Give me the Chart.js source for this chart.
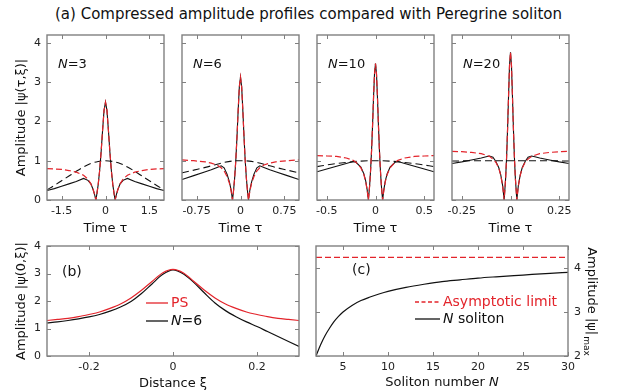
<!DOCTYPE html>
<html>
<head>
<meta charset="utf-8">
<script src="https://cdn.jsdelivr.net/npm/chart.js@4"></script>
<style>
  body { margin: 0; background: #fff; width: 617px; height: 392px; position: relative; overflow: hidden; font-family: "DejaVu Sans", sans-serif; }
  canvas { position: absolute; }
  #title { position: absolute; left: 0; width: 617px; top: 5px; text-align: center; font-size: 15px; color: #111; }
</style>
</head>
<body>
<div id="title">(a) Compressed amplitude profiles compared with Peregrine soliton</div>
<canvas id="p3"></canvas>
<canvas id="p6"></canvas>
<canvas id="p10"></canvas>
<canvas id="p20"></canvas>
<canvas id="pb"></canvas>
<canvas id="pc"></canvas>
<script>
// ---- data ----
const ampTicks = [0, 1, 2, 3, 4];

// N = 3
const tau3 = [-2, -1.75, -1.5, -1.25, -1, -0.75, -0.6, -0.5, -0.42, -0.37, -0.33, -0.3, -0.25, -0.2, -0.15, -0.1, -0.05, 0,
  0.05, 0.1, 0.15, 0.2, 0.25, 0.3, 0.33, 0.37, 0.42, 0.5, 0.6, 0.75, 1, 1.25, 1.5, 1.75, 2];
const ps3 = [0.80, 0.79, 0.78, 0.75, 0.71, 0.63, 0.53, 0.41, 0.26, 0.13, 0, 0.13, 0.39, 0.75, 1.22, 1.77, 2.28, 2.49,
  2.28, 1.77, 1.22, 0.75, 0.39, 0.13, 0, 0.13, 0.26, 0.41, 0.53, 0.63, 0.71, 0.75, 0.78, 0.79, 0.80];
const sol3 = [0.24, 0.29, 0.35, 0.41, 0.47, 0.55, 0.50, 0.41, 0.26, 0.13, 0, 0.13, 0.39, 0.75, 1.22, 1.77, 2.28, 2.49,
  2.28, 1.77, 1.22, 0.75, 0.39, 0.13, 0, 0.13, 0.26, 0.41, 0.50, 0.55, 0.47, 0.41, 0.35, 0.29, 0.24];
const tauIn3 = [-2, -1.75, -1.5, -1.25, -1, -0.75, -0.5, -0.25, 0, 0.25, 0.5, 0.75, 1, 1.25, 1.5, 1.75, 2];
const in3 = [0.26, 0.37, 0.49, 0.61, 0.73, 0.84, 0.93, 0.98, 1.0, 0.98, 0.93, 0.84, 0.73, 0.61, 0.49, 0.37, 0.26];
const ticks3 = [-1.5, 0, 1.5];

// N = 6
const tau6 = [-1, -0.8, -0.6, -0.5, -0.4, -0.33, -0.28, -0.23, -0.19, -0.16, -0.137, -0.12, -0.1, -0.08, -0.06, -0.04, -0.02, 0,
  0.02, 0.04, 0.06, 0.08, 0.1, 0.12, 0.137, 0.16, 0.19, 0.23, 0.28, 0.33, 0.4, 0.5, 0.6, 0.8, 1];
const ps6 = [1.02, 1.0, 0.97, 0.94, 0.89, 0.82, 0.74, 0.60, 0.43, 0.23, 0, 0.22, 0.56, 1.02, 1.61, 2.28, 2.88, 3.13,
  2.88, 2.28, 1.61, 1.02, 0.56, 0.22, 0, 0.23, 0.43, 0.60, 0.74, 0.82, 0.89, 0.94, 0.97, 1.0, 1.02];
const sol6 = [0.52, 0.62, 0.72, 0.77, 0.83, 0.87, 0.82, 0.66, 0.46, 0.25, 0, 0.22, 0.56, 1.02, 1.61, 2.28, 2.88, 3.13,
  2.88, 2.28, 1.61, 1.02, 0.56, 0.22, 0, 0.25, 0.46, 0.66, 0.82, 0.87, 0.83, 0.77, 0.72, 0.62, 0.52];
const tauIn6 = [-1, -0.8, -0.6, -0.45, -0.3, -0.15, 0, 0.15, 0.3, 0.45, 0.6, 0.8, 1];
const in6 = [0.69, 0.76, 0.83, 0.89, 0.95, 0.99, 1.0, 0.99, 0.95, 0.89, 0.83, 0.76, 0.69];
const ticks6 = [-0.75, 0, 0.75];

// N = 10
const tau10 = [-0.6, -0.5, -0.4, -0.3, -0.23, -0.2, -0.15, -0.12, -0.1, -0.085, -0.073, -0.06, -0.05, -0.04, -0.03, -0.02, -0.01, 0,
  0.01, 0.02, 0.03, 0.04, 0.05, 0.06, 0.073, 0.085, 0.1, 0.12, 0.15, 0.2, 0.23, 0.3, 0.4, 0.5, 0.6];
const ps10 = [1.13, 1.12, 1.11, 1.07, 1.01, 0.96, 0.82, 0.65, 0.46, 0.24, 0, 0.37, 0.77, 1.28, 1.91, 2.62, 3.22, 3.47,
  3.22, 2.62, 1.91, 1.28, 0.77, 0.37, 0, 0.24, 0.46, 0.65, 0.82, 0.96, 1.01, 1.07, 1.11, 1.12, 1.13];
const sol10 = [0.72, 0.79, 0.86, 0.93, 0.98, 0.96, 0.84, 0.67, 0.48, 0.25, 0, 0.37, 0.77, 1.28, 1.91, 2.62, 3.22, 3.47,
  3.22, 2.62, 1.91, 1.28, 0.77, 0.37, 0, 0.25, 0.48, 0.67, 0.84, 0.96, 0.98, 0.93, 0.86, 0.79, 0.72];
const tauIn10 = [-0.6, -0.45, -0.3, -0.15, 0, 0.15, 0.3, 0.45, 0.6];
const in10 = [0.85, 0.91, 0.955, 0.99, 1.0, 0.99, 0.955, 0.91, 0.85];
const ticks10 = [-0.5, 0, 0.5];

// N = 20
const tau20 = [-0.3, -0.25, -0.2, -0.15, -0.125, -0.108, -0.09, -0.075, -0.06, -0.05, -0.04, -0.0325, -0.025, -0.02, -0.015, -0.01, -0.005, 0,
  0.005, 0.01, 0.015, 0.02, 0.025, 0.0325, 0.04, 0.05, 0.06, 0.075, 0.09, 0.108, 0.125, 0.15, 0.2, 0.25, 0.3];
const ps20 = [1.24, 1.23, 1.21, 1.18, 1.14, 1.11, 1.04, 0.96, 0.81, 0.63, 0.35, 0, 0.55, 1.09, 1.81, 2.65, 3.43, 3.76,
  3.43, 2.65, 1.81, 1.09, 0.55, 0, 0.35, 0.63, 0.81, 0.96, 1.04, 1.11, 1.14, 1.18, 1.21, 1.23, 1.24];
const sol20 = [0.93, 0.97, 1.02, 1.07, 1.10, 1.12, 1.09, 0.98, 0.82, 0.64, 0.36, 0, 0.55, 1.09, 1.81, 2.65, 3.43, 3.76,
  3.43, 2.65, 1.81, 1.09, 0.55, 0, 0.36, 0.64, 0.82, 0.98, 1.09, 1.12, 1.10, 1.07, 1.02, 0.97, 0.93];
const tauIn20 = [-0.3, -0.15, 0, 0.15, 0.3];
const in20 = [0.99, 1.0, 1.0, 1.0, 0.99];
const ticks20 = [-0.25, 0, 0.25];

// (b) peak amplitude along distance
const xi = [-0.3, -0.275, -0.25, -0.225, -0.2, -0.175, -0.15, -0.125, -0.1, -0.075, -0.05, -0.025, 0,
  0.025, 0.05, 0.075, 0.1, 0.125, 0.15, 0.175, 0.2, 0.225, 0.25, 0.275, 0.3];
const psXi = [1.29, 1.33, 1.37, 1.43, 1.51, 1.60, 1.73, 1.89, 2.11, 2.39, 2.71, 3.02, 3.15,
  3.02, 2.71, 2.39, 2.11, 1.89, 1.73, 1.60, 1.51, 1.43, 1.37, 1.33, 1.29];
const solXi = [1.20, 1.24, 1.29, 1.35, 1.42, 1.51, 1.63, 1.78, 1.98, 2.27, 2.62, 2.96, 3.13,
  2.98, 2.67, 2.29, 1.93, 1.65, 1.43, 1.24, 1.07, 0.89, 0.71, 0.53, 0.35];
const xiTicks = [-0.2, 0, 0.2];

// (c) maximum amplitude vs soliton number
const nSol = [2, 2.5, 3, 3.5, 4, 4.5, 5, 6, 7, 8, 9, 10, 12, 14, 16, 18, 20, 22, 25, 28, 30];
const peakSol = [2.0, 2.25, 2.46, 2.63, 2.78, 2.9, 3.0, 3.15, 3.26, 3.34, 3.41, 3.47, 3.56, 3.63, 3.69, 3.73, 3.77, 3.80, 3.84, 3.88, 3.90];
const nLimit = [2, 30];
const peakLimit = [4.24, 4.24];
const nTicks = [5, 10, 15, 20, 25, 30];
const peakTicks = [2, 3, 4];

// ---- styling ----
const RED = "#e3242b";
const BLACK = "#111";
const FRAME = "#808080";
const FONT = "'DejaVu Sans', sans-serif";
Chart.defaults.font.family = FONT;
Chart.defaults.color = "#222";

const pts = (xs, ys) => xs.map((x, i) => ({ x: x, y: ys[i] }));

function drawRuns(ctx, runs, x, y, size, align) {
  let w = 0;
  runs.forEach(r => { ctx.font = (r[1] ? "italic " : "") + size + "px " + FONT; w += ctx.measureText(r[0]).width; });
  let cx = align === "center" ? x - w / 2 : x;
  ctx.textBaseline = "middle";
  ctx.textAlign = "left";
  runs.forEach(r => {
    ctx.font = (r[1] ? "italic " : "") + size + "px " + FONT;
    ctx.fillStyle = r[2] || BLACK;
    ctx.fillText(r[0], cx, y);
    cx += ctx.measureText(r[0]).width;
  });
}

// frame, inward ticks, labels and legends
const decor = {
  id: "decor",
  afterDraw(chart, args, opts) {
    const { ctx, chartArea: a, scales } = chart;
    ctx.save();
    ctx.strokeStyle = FRAME;
    ctx.lineWidth = 1.4;
    ctx.strokeRect(a.left, a.top, a.right - a.left, a.bottom - a.top);
    ctx.lineWidth = 1;
    ctx.beginPath();
    scales.x.ticks.forEach(t => {
      const px = Math.round(scales.x.getPixelForValue(t.value)) + 0.5;
      ctx.moveTo(px, a.bottom); ctx.lineTo(px, a.bottom - 4);
      ctx.moveTo(px, a.top); ctx.lineTo(px, a.top + 4);
    });
    scales.y.ticks.forEach(t => {
      const py = Math.round(scales.y.getPixelForValue(t.value)) + 0.5;
      ctx.moveTo(a.left, py); ctx.lineTo(a.left + 4, py);
      ctx.moveTo(a.right, py); ctx.lineTo(a.right - 4, py);
    });
    ctx.stroke();

    (opts.texts || []).forEach(t => drawRuns(ctx, t.runs, a.left + t.dx, a.top + t.dy, t.size, t.align));

    (opts.legend || []).forEach(l => {
      ctx.strokeStyle = l.color;
      ctx.lineWidth = 1.3;
      ctx.setLineDash(l.dash || []);
      ctx.beginPath();
      ctx.moveTo(a.left + l.x1, a.top + l.dy);
      ctx.lineTo(a.left + l.x2, a.top + l.dy);
      ctx.stroke();
      ctx.setLineDash([]);
      drawRuns(ctx, l.runs, a.left + l.x2 + 3, a.top + l.dy, 14);
    });

    if (opts.bottomTitle) {
      drawRuns(ctx, opts.bottomTitle, (a.left + a.right) / 2, a.bottom + 27, 13, "center");
    }
    if (opts.rightTitle) {
      ctx.translate(a.right + 23, (a.top + a.bottom) / 2);
      ctx.rotate(Math.PI / 2);
      ctx.font = "13px " + FONT;
      const w1 = ctx.measureText("Amplitude |ψ|").width;
      ctx.font = "9px " + FONT;
      const w2 = ctx.measureText("max").width;
      const x0 = -(w1 + w2) / 2;
      drawRuns(ctx, [["Amplitude |ψ|"]], x0, 0, 13);
      drawRuns(ctx, [["max"]], x0 + w1 + 1, 5, 9);
    }
    ctx.restore();
  }
};

function xScale(min, max, ticks, title, height) {
  return {
    type: "linear", min: min, max: max,
    afterBuildTicks: s => { s.ticks = ticks.map(v => ({ value: v })); },
    afterFit: s => { s.height = height; },
    grid: { display: false, drawTicks: false },
    border: { display: false },
    ticks: { font: { size: 11 }, color: "#222", padding: 5, maxRotation: 0, autoSkip: false, callback: v => String(v) },
    title: { display: !!title, text: title, font: { size: 13 }, color: BLACK, padding: { top: 0, bottom: 0 } }
  };
}

function yScale(min, max, ticks, title, width, showLabels, pos) {
  return {
    type: "linear", min: min, max: max, position: pos || "left",
    afterBuildTicks: s => { s.ticks = ticks.map(v => ({ value: v })); },
    afterFit: s => { s.width = width; },
    grid: { display: false, drawTicks: false },
    border: { display: false },
    ticks: { display: showLabels, font: { size: 11 }, color: "#222", padding: 6, callback: v => String(v) },
    title: { display: !!title, text: title, font: { size: 13 }, color: BLACK, padding: { top: 14, bottom: 0 } }
  };
}

const common = {
  responsive: false,
  animation: false,
  devicePixelRatio: 1,
  elements: { point: { radius: 0 }, line: { tension: 0 } },
  events: []
};

// ---- top row ----
const topPanels = [
  { id: "p3", n: "3", left: 47, first: true, range: 2, ticks: ticks3, tau: tau3, ps: ps3, sol: sol3, tauIn: tauIn3, ini: in3 },
  { id: "p6", n: "6", left: 182, range: 1, ticks: ticks6, tau: tau6, ps: ps6, sol: sol6, tauIn: tauIn6, ini: in6 },
  { id: "p10", n: "10", left: 317, range: 0.6, ticks: ticks10, tau: tau10, ps: ps10, sol: sol10, tauIn: tauIn10, ini: in10 },
  { id: "p20", n: "20", left: 452, range: 0.3, ticks: ticks20, tau: tau20, ps: ps20, sol: sol20, tauIn: tauIn20, ini: in20 }
];

topPanels.forEach(p => {
  const cv = document.getElementById(p.id);
  const yW = p.first ? 47 : 30;
  cv.width = yW + 117 + 20;
  cv.height = 15 + 165 + 36;
  cv.style.left = (p.left - yW) + "px";
  cv.style.top = "20px";
  new Chart(cv, {
    type: "line",
    data: {
      datasets: [
        { data: pts(p.tau, p.ps), borderColor: RED, borderWidth: 1.2, borderDash: [6, 3] },
        { data: pts(p.tau, p.sol), borderColor: BLACK, borderWidth: 1.1 },
        { data: pts(p.tauIn, p.ini), borderColor: BLACK, borderWidth: 1.1, borderDash: [7, 4], cubicInterpolationMode: "monotone" }
      ]
    },
    options: Object.assign({}, common, {
      layout: { padding: { top: 15, right: 20, left: 0, bottom: 0 } },
      scales: {
        x: xScale(-p.range, p.range, p.ticks, "Time τ", 36),
        y: yScale(0, 4.2, ampTicks, p.first ? "Amplitude |ψ(τ,ξ)|" : "", yW, !!p.first)
      },
      plugins: {
        legend: { display: false }, tooltip: { enabled: false },
        decor: { texts: [{ runs: [["N", true], ["=" + p.n]], dx: 11, dy: 30, size: 13 }] }
      }
    }),
    plugins: [decor]
  });
});

// ---- (b) ----
(function () {
  const cv = document.getElementById("pb");
  cv.width = 47 + 252 + 20;
  cv.height = 15 + 110 + 35;
  cv.style.left = "0px";
  cv.style.top = "231px";
  new Chart(cv, {
    type: "line",
    data: {
      datasets: [
        { data: pts(xi, psXi), borderColor: RED, borderWidth: 1.2, cubicInterpolationMode: "monotone" },
        { data: pts(xi, solXi), borderColor: BLACK, borderWidth: 1.2, cubicInterpolationMode: "monotone" }
      ]
    },
    options: Object.assign({}, common, {
      layout: { padding: { top: 15, right: 20, left: 0, bottom: 0 } },
      scales: {
        x: xScale(-0.3, 0.3, xiTicks, "Distance ξ", 35),
        y: yScale(0, 4, ampTicks, "Amplitude |ψ(0,ξ)|", 47, true)
      },
      plugins: {
        legend: { display: false }, tooltip: { enabled: false },
        decor: {
          texts: [{ runs: [["(b)"]], dx: 15, dy: 26, size: 14 }],
          legend: [
            { color: RED, x1: 99, x2: 121, dy: 57, runs: [["PS", false, RED]] },
            { color: BLACK, x1: 99, x2: 121, dy: 75, runs: [["N", true], ["=6"]] }
          ]
        }
      }
    }),
    plugins: [decor]
  });
})();

// ---- (c) ----
(function () {
  const cv = document.getElementById("pc");
  cv.width = 20 + 252 + 49;
  cv.height = 15 + 110 + 35;
  cv.style.left = "296px";
  cv.style.top = "231px";
  new Chart(cv, {
    type: "line",
    data: {
      datasets: [
        { data: pts(nLimit, peakLimit), borderColor: RED, borderWidth: 1.2, borderDash: [6, 3] },
        { data: pts(nSol, peakSol), borderColor: BLACK, borderWidth: 1.2, cubicInterpolationMode: "monotone" }
      ]
    },
    options: Object.assign({}, common, {
      layout: { padding: { top: 15, right: 0, left: 20, bottom: 0 } },
      scales: {
        x: xScale(2, 30, nTicks, "", 35),
        y: yScale(2, 4.5, peakTicks, "", 49, true, "right")
      },
      plugins: {
        legend: { display: false }, tooltip: { enabled: false },
        decor: {
          texts: [{ runs: [["(c)"]], dx: 36, dy: 24, size: 14 }],
          legend: [
            { color: RED, dash: [4, 2.5], x1: 99, x2: 124, dy: 56, runs: [["Asymptotic limit", false, RED]] },
            { color: BLACK, x1: 99, x2: 124, dy: 73, runs: [["N", true], [" soliton"]] }
          ],
          bottomTitle: [["Soliton number "], ["N", true]],
          rightTitle: true
        }
      }
    }),
    plugins: [decor]
  });
})();
</script>
</body>
</html>
